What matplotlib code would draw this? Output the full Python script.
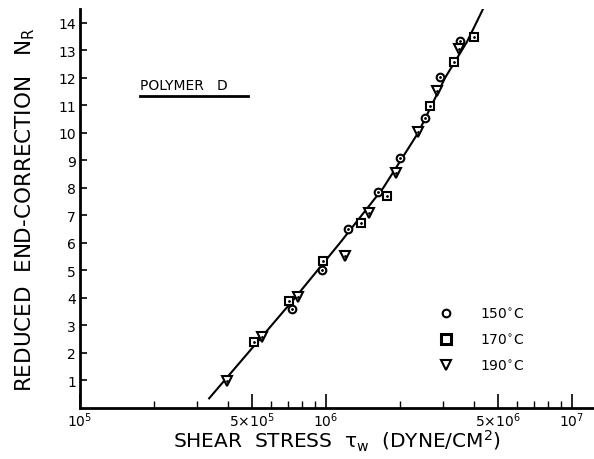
import matplotlib
matplotlib.use("Agg")
import matplotlib.pyplot as plt
import numpy as np
from matplotlib.ticker import FixedLocator, NullFormatter
from matplotlib.lines import Line2D

plt.rcParams['font.family'] = ['DejaVu Sans']
plt.rcParams['mathtext.default'] = 'regular'

# Data
x150 = [7.3e5, 9.6e5, 1.23e6, 1.63e6, 2.0e6, 2.52e6, 2.9e6, 3.5e6]
y150 = [3.59, 5.0, 6.52, 7.86, 9.09, 10.54, 12.03, 13.33]

x170 = [5.1e5, 7.1e5, 9.7e5, 1.39e6, 1.77e6, 2.65e6, 3.31e6, 4.0e6]
y170 = [2.39, 3.88, 5.36, 6.74, 7.72, 10.98, 12.57, 13.48]

x190 = [3.97e5, 5.5e5, 7.7e5, 1.19e6, 1.50e6, 1.93e6, 2.37e6, 2.82e6, 3.48e6]
y190 = [0.98, 2.57, 4.02, 5.54, 7.07, 8.55, 10.03, 11.52, 13.04]

line_x = [3.35e5, 4.82e5, 7.48e5, 1.14e6, 1.71e6, 2.37e6, 3.05e6, 3.74e6, 4.35e6]
line_y = [0.35, 2.0, 4.0, 6.0, 8.0, 10.0, 12.0, 13.3, 14.5]

y_ticks = list(range(1, 15))
x_major = [1e5, 5e5, 1e6, 5e6, 1e7]
x_major_labels = ['$10^5$', '$5{\\times}10^5$', '$10^6$', '$5{\\times}10^6$', '$10^7$']
legend_labels = ['150$^{\\circ}$C', '170$^{\\circ}$C', '190$^{\\circ}$C']

fig = plt.figure(figsize=(5.94, 4.60), dpi=100)
ax = fig.add_axes([0.1347, 0.1109, 0.8653, 0.8672])
ax.set_xscale('log')
ax.set_xlim(1e5, 1.23e7)
ax.set_ylim(0, 14.5)

ax.plot(line_x, line_y, color='black', lw=1.5, zorder=2)

mk = dict(ls='none', mfc='white', mec='black', mew=1.5, zorder=3)
ax.plot(x150, y150, marker='o', ms=5.5, **mk)
ax.plot(x170, y170, marker='s', ms=5.5, **mk)
ax.plot(x190, y190, marker='v', ms=6.5, **mk)
ax.plot(x150 + x170 + x190, y150 + y170 + y190, ls='none', marker='.', ms=2, color='black', zorder=4)

for s in ['top', 'right']:
    ax.spines[s].set_visible(False)
for s in ['left', 'bottom']:
    ax.spines[s].set_linewidth(2.0)

ax.set_yticks(y_ticks)
ax.tick_params(axis='y', direction='in', length=5, width=1.2, labelsize=10, pad=3)
ax.xaxis.set_major_locator(FixedLocator(x_major))
ax.set_xticklabels(x_major_labels)
minor = [m * 10**e for e in (5, 6) for m in range(2, 10) if m != 5]
ax.xaxis.set_minor_locator(FixedLocator(minor))
ax.xaxis.set_minor_formatter(NullFormatter())
ax.tick_params(axis='x', which='major', direction='in', length=10, width=1.2, labelsize=10, pad=2)
ax.tick_params(axis='x', which='minor', direction='in', length=5, width=1.0)

ax.set_xlabel('SHEAR  STRESS  $\\tau_w$  (DYNE/CM$^2$)', fontsize=14.5, labelpad=-1)
ax.set_ylabel('REDUCED  END-CORRECTION   N$_R$', fontsize=15.5, labelpad=15)

ax.text(0.117, 0.81, 'POLYMER   D', transform=ax.transAxes, fontsize=10, ha='left', va='center')
ax.plot([0.117, 0.327], [0.782, 0.782], transform=ax.transAxes, color='black', lw=2, clip_on=False)

handles = [Line2D([], [], marker='o', ls='none', mfc='white', mec='black', mew=1.5, ms=5.5),
           Line2D([], [], marker='s', ls='none', mfc='white', mec='black', mew=2.2, ms=6.5),
           Line2D([], [], marker='v', ls='none', mfc='white', mec='black', mew=1.5, ms=6.5)]
ax.legend(handles, legend_labels, loc='upper left', bbox_to_anchor=(0.675, 0.285), frameon=False,
          fontsize=10, labelspacing=0.8, handletextpad=1.9, handlelength=1.0)

fig.savefig('out.png', dpi=100)
